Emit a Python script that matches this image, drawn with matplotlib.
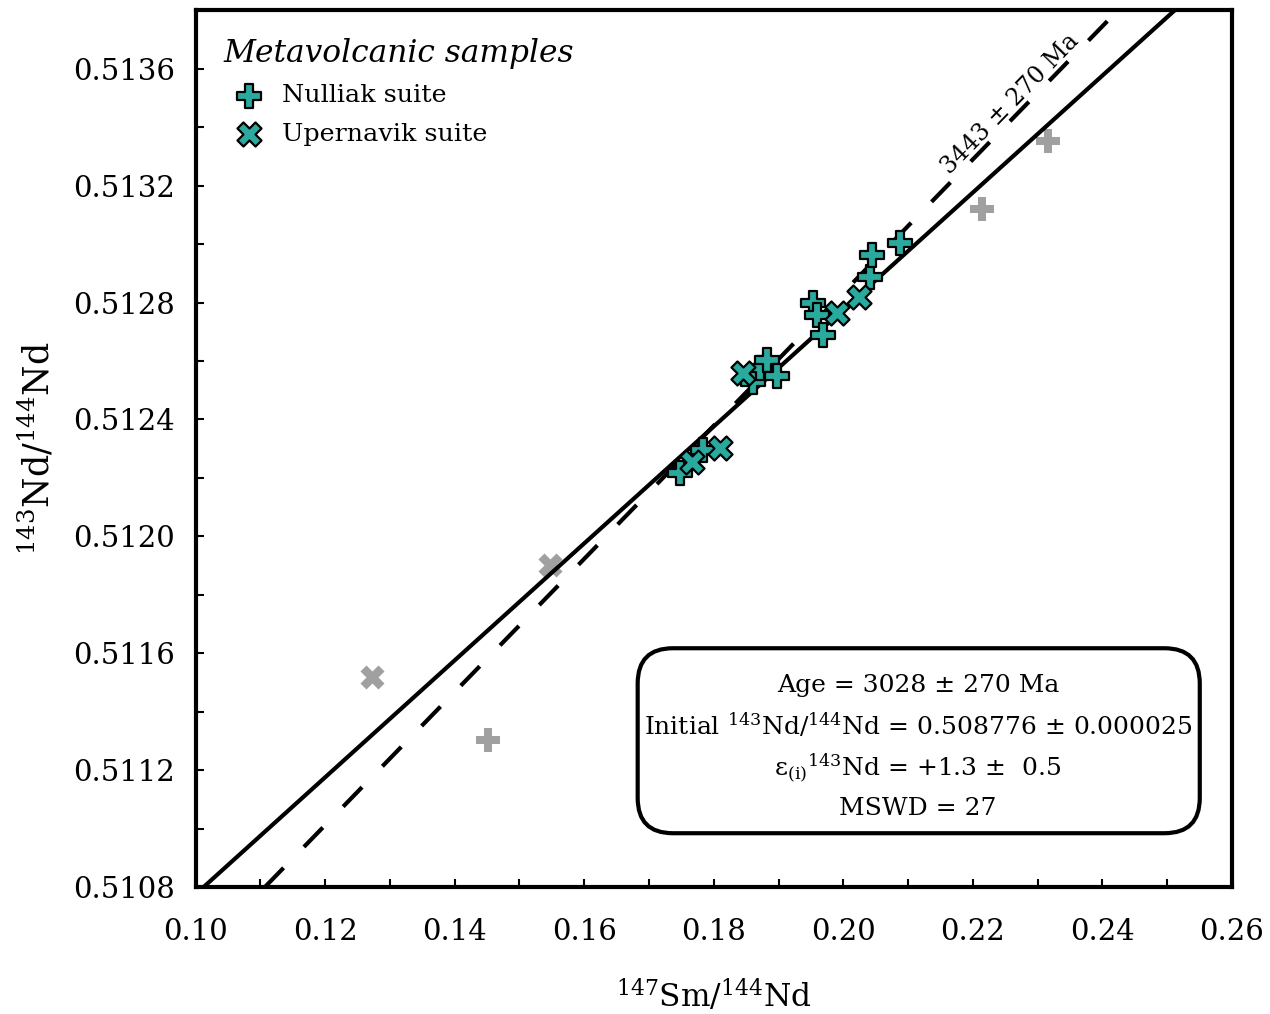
import numpy as np
import matplotlib
matplotlib.use('Agg')
import matplotlib.pyplot as plt
from matplotlib.patches import FancyBboxPatch
from matplotlib.ticker import MultipleLocator, FormatStrFormatter

plt.rcParams['font.family'] = 'DejaVu Serif'
plt.rcParams['mathtext.fontset'] = 'dejavuserif'

# Nulliak suite (plus markers)
nulliak_x = [0.1748, 0.1783, 0.1860, 0.1871, 0.1883, 0.1897,
             0.1953, 0.1959, 0.1968, 0.2041, 0.2044, 0.2087]
nulliak_y = [0.512217, 0.512296, 0.512529, 0.512576, 0.512604, 0.512549,
             0.512799, 0.512758, 0.512689, 0.512888, 0.512963, 0.513004]

# Upernavik suite (x markers)
upernavik_x = [0.1766, 0.1809, 0.1845, 0.1990, 0.2025]
upernavik_y = [0.512255, 0.512303, 0.512559, 0.512765, 0.512820]

# excluded samples (grey)
excl_plus_x = [0.1451, 0.2214, 0.2316]
excl_plus_y = [0.511303, 0.513121, 0.513353]
excl_cross_x = [0.1272, 0.1547]
excl_cross_y = [0.511519, 0.511902]

# isochron (solid) and reference line (dashed)
iso_slope, iso_int = 0.0200, 0.508776
ref_slope, ref_int = 0.02277, 0.50828

teal = '#2aaa9f'
grey = '#a0a0a0'

fig = plt.figure(figsize=(12.7, 10.14), dpi=100)
ax = fig.add_axes([0.154, 0.125, 0.816, 0.865])

ax.scatter(excl_plus_x, excl_plus_y, marker='P', s=300, color=grey, lw=0, zorder=1)
ax.scatter(excl_cross_x, excl_cross_y, marker='X', s=300, color=grey, lw=0, zorder=1)

ax.axline((0, iso_int), slope=iso_slope, color='black', lw=3, zorder=2)
ax.axline((0, ref_int), slope=ref_slope, color='black', lw=3, ls=(0, (6.5, 7.0)), zorder=2)

ax.scatter(nulliak_x, nulliak_y, marker='P', s=300, color=teal, edgecolor='black',
           lw=1.6, zorder=3, label='Nulliak suite')
ax.scatter(upernavik_x, upernavik_y, marker='X', s=300, color=teal, edgecolor='black',
           lw=1.6, zorder=3, label='Upernavik suite')

ax.set_xlim(0.10, 0.26)
ax.set_ylim(0.5108, 0.5138)
ax.xaxis.set_major_locator(MultipleLocator(0.02))
ax.xaxis.set_minor_locator(MultipleLocator(0.01))
ax.yaxis.set_major_locator(MultipleLocator(0.0004))
ax.yaxis.set_minor_locator(MultipleLocator(0.0002))
ax.xaxis.set_major_formatter(FormatStrFormatter('%.2f'))
ax.yaxis.set_major_formatter(FormatStrFormatter('%.4f'))
ax.tick_params(which='both', direction='in', length=6, width=1.5)
ax.tick_params(axis='x', which='major', labelsize=21, pad=22)
ax.tick_params(axis='y', which='major', labelsize=21, pad=15)
for sp in ax.spines.values():
    sp.set_linewidth(3)

ax.set_xlabel(r'$^{147}$Sm/$^{144}$Nd', fontsize=22.5, labelpad=24)
ax.set_ylabel(r'$^{143}$Nd/$^{144}$Nd', fontsize=25, labelpad=12)

leg = ax.legend(loc='upper left', bbox_to_anchor=(0.0, 1.0), frameon=False,
                fontsize=18.3, title='Metavolcanic samples', alignment='left',
                handletextpad=0.3, labelspacing=0.6, borderpad=0.6)
leg.get_title().set_fontsize(22.5)
leg.get_title().set_fontstyle('italic')

ax.text(0.786, 0.893, '3443 ± 270 Ma', transform=ax.transAxes, fontsize=17,
        rotation=45.7, ha='center', va='center')

# stats box
box = FancyBboxPatch((0.4266, 0.0616), 0.5424, 0.2109, transform=ax.transAxes,
                     boxstyle='round,pad=0,rounding_size=0.034',
                     mutation_aspect=1036 / 877, fc='white', ec='black', lw=3, zorder=4)
ax.add_patch(box)
stats = ['Age = 3028 ± 270 Ma',
         r'Initial $^{143}$Nd/$^{144}$Nd = 0.508776 ± 0.000025',
         r'ε$_{(\mathrm{i})}$$^{143}$Nd = +1.3 ±  0.5',
         'MSWD = 27']
for txt, yy in zip(stats, [0.2303, 0.1847, 0.1368, 0.0901]):
    ax.text(0.697, yy, txt, transform=ax.transAxes, fontsize=18,
            ha='center', va='center', zorder=5)

fig.savefig('out.png', dpi=100)
